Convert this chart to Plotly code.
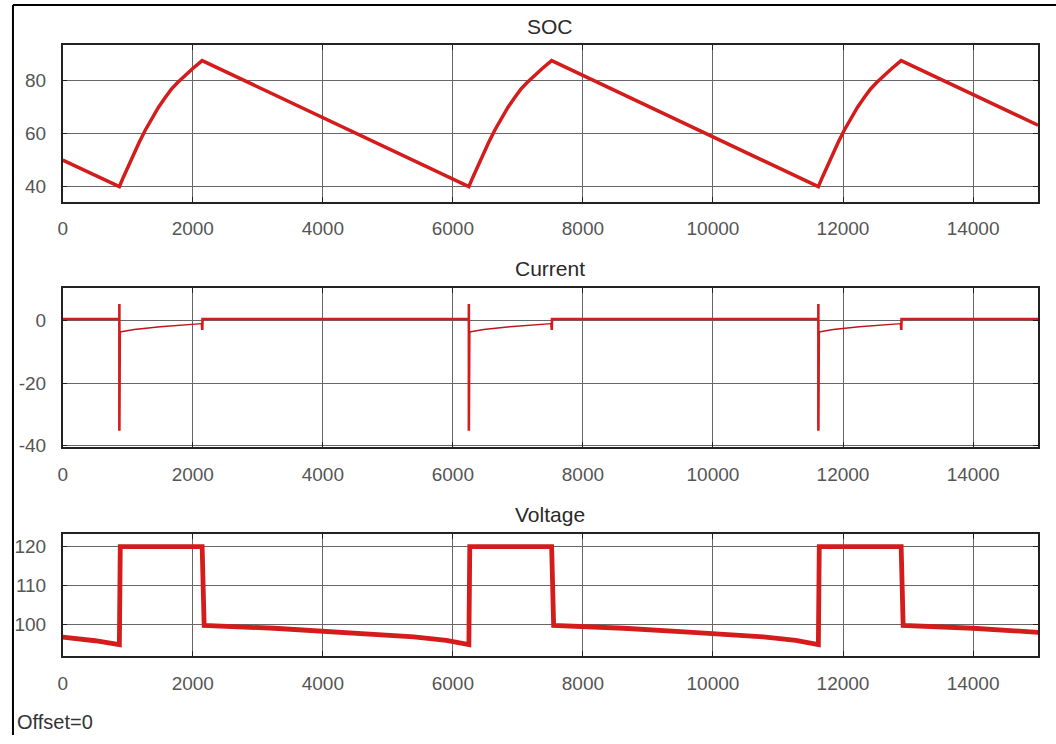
import plotly.graph_objects as go

# ---------------- data ----------------
soc_t = [0,
         871, 931, 1001, 1071, 1171, 1271, 1371, 1471, 1571, 1671, 1771, 1871, 2000, 2144,
         6246, 6306, 6376, 6446, 6546, 6646, 6746, 6846, 6946, 7046, 7146, 7246, 7375, 7519,
         11621, 11681, 11751, 11821, 11921, 12021, 12121, 12221, 12321, 12421, 12521, 12621, 12750, 12894,
         15000]
soc_v = [50,
         40, 43.5, 47.5, 51.3, 56.5, 61.4, 65.9, 69.9, 73.5, 76.8, 79.4, 81.8, 84.6, 87.6,
         40, 43.5, 47.5, 51.3, 56.5, 61.4, 65.9, 69.9, 73.5, 76.8, 79.4, 81.8, 84.6, 87.6,
         40, 43.5, 47.5, 51.3, 56.5, 61.4, 65.9, 69.9, 73.5, 76.8, 79.4, 81.8, 84.6, 87.6,
         63.2]

# current: idle/spike parts (thick) and charging decay parts (thin)
cur_main_t = [0, 871, 871, 871, 878, None,
              2140, 2144, 2146, 2150, 6246, 6246, 6246, 6253, None,
              7515, 7519, 7521, 7525, 11621, 11621, 11621, 11628, None,
              12890, 12894, 12896, 12900, 15000]
cur_main_v = [0.6, 0.6, 5.4, -35.3, -3.6, None,
              -0.9, -2.9, -2.9, 0.6, 0.6, 5.4, -35.3, -3.6, None,
              -0.9, -2.9, -2.9, 0.6, 0.6, 5.4, -35.3, -3.6, None,
              -0.9, -2.9, -2.9, 0.6, 0.6]
cur_chg_t = [878, 1100, 1500, 1900, 2140, None,
             6253, 6475, 6875, 7275, 7515, None,
             11628, 11850, 12250, 12650, 12890]
cur_chg_v = [-3.6, -2.8, -1.9, -1.3, -0.9, None,
             -3.6, -2.8, -1.9, -1.3, -0.9, None,
             -3.6, -2.8, -1.9, -1.3, -0.9]

volt_t = [0, 500, 871, 885, 2144, 2175, 3250, 4250, 5400, 5900, 6100, 6246,
          6260, 7519, 7550, 8625, 9625, 10775, 11275, 11475, 11621,
          11635, 12894, 12925, 14000, 15000]
volt_v = [96.8, 95.9, 94.9, 120, 120, 99.8, 99.1, 98.1, 96.9, 96.0, 95.5, 94.9,
          120, 120, 99.8, 99.1, 98.1, 96.9, 96.0, 95.5, 94.9,
          120, 120, 99.8, 99.1, 98.05]

x_ticks = [0, 2000, 4000, 6000, 8000, 10000, 12000, 14000]
soc_ticks = [40, 60, 80]
cur_ticks = [-40, -20, 0]
volt_ticks = [100, 110, 120]
titles = ["SOC", "Current", "Voltage"]

# ---------------- styling ----------------
W, H = 1056, 744
RED = "rgb(212,28,28)"
FONT = "Liberation Sans, Arial, sans-serif"
TICKCOL = "#555555"
GRID = "#666666"
FRAME = "#222222"

def py(p):  # pixel from top -> paper y
    return 1 - p / H

def px(p):
    return p / W

xdom = [px(58), px(1038)]
ydoms = [[py(204), py(46)], [py(452.7), py(292)], [py(664), py(540.7)]]
yranges = [[34.4, 93.3], [-40.6, 10.4], [92.0, 123.2]]
yticks = [soc_ticks, cur_ticks, volt_ticks]

fig = go.Figure()
fig.add_trace(go.Scatter(x=soc_t, y=soc_v, mode="lines", line=dict(color=RED, width=3.5),
                         xaxis="x", yaxis="y", showlegend=False))
fig.add_trace(go.Scatter(x=cur_main_t, y=cur_main_v, mode="lines", line=dict(color=RED, width=2.6),
                         xaxis="x2", yaxis="y2", showlegend=False, connectgaps=False))
fig.add_trace(go.Scatter(x=cur_chg_t, y=cur_chg_v, mode="lines", line=dict(color="rgb(190,20,30)", width=1.4),
                         xaxis="x2", yaxis="y2", showlegend=False, connectgaps=False))
fig.add_trace(go.Scatter(x=volt_t, y=volt_v, mode="lines", line=dict(color=RED, width=4.8),
                         xaxis="x3", yaxis="y3", showlegend=False))

layout = dict(width=W, height=H, margin=dict(l=0, r=0, t=0, b=0),
              paper_bgcolor="white", plot_bgcolor="white",
              font=dict(family=FONT, size=19, color=TICKCOL))

for i in range(3):
    xs = "xaxis" if i == 0 else f"xaxis{i+1}"
    ys = "yaxis" if i == 0 else f"yaxis{i+1}"
    xa = "x" if i == 0 else f"x{i+1}"
    ya = "y" if i == 0 else f"y{i+1}"
    layout[xs] = dict(domain=xdom, range=[0, 15000], anchor=ya,
                      tickmode="array", tickvals=x_ticks, ticktext=[str(v) for v in x_ticks],
                      showgrid=True, gridcolor=GRID, gridwidth=1,
                      showline=True, linecolor=FRAME, linewidth=1.5, mirror="allticks",
                      ticks="inside", ticklen=5, tickcolor=FRAME,
                      zeroline=False, ticklabelstandoff=9,
                      tickfont=dict(family=FONT, size=19, color=TICKCOL))
    layout[ys] = dict(domain=ydoms[i], range=yranges[i], anchor=xa,
                      tickmode="array", tickvals=yticks[i], ticktext=[str(v) for v in yticks[i]],
                      showgrid=True, gridcolor=GRID, gridwidth=1,
                      showline=True, linecolor=FRAME, linewidth=1.5, mirror="allticks",
                      ticks="inside", ticklen=5, tickcolor=FRAME,
                      zeroline=False, ticklabelstandoff=11,
                      tickfont=dict(family=FONT, size=19, color=TICKCOL))

fig.update_layout(**layout)

title_y = [26.5, 271.5, 520.5]
for t, yy in zip(titles, title_y):
    fig.add_annotation(text=t, x=(xdom[0] + xdom[1]) / 2, y=py(yy), xref="paper", yref="paper",
                       xanchor="center", yanchor="middle", showarrow=False,
                       font=dict(family=FONT, size=21, color="#2a2a2a"))

fig.add_annotation(text="Offset=0", x=px(10), y=py(730.5), xref="paper", yref="paper",
                   xanchor="left", yanchor="middle", showarrow=False,
                   font=dict(family=FONT, size=20, color="#333333"))

# outer window frame (left and top edges)
fig.add_shape(type="line", xref="paper", yref="paper", x0=px(8), y0=0, x1=px(8), y1=py(5),
              line=dict(color="black", width=2))
fig.add_shape(type="line", xref="paper", yref="paper", x0=px(8), y0=py(5), x1=1, y1=py(5),
              line=dict(color="black", width=2))

fig.write_html("out.html")
